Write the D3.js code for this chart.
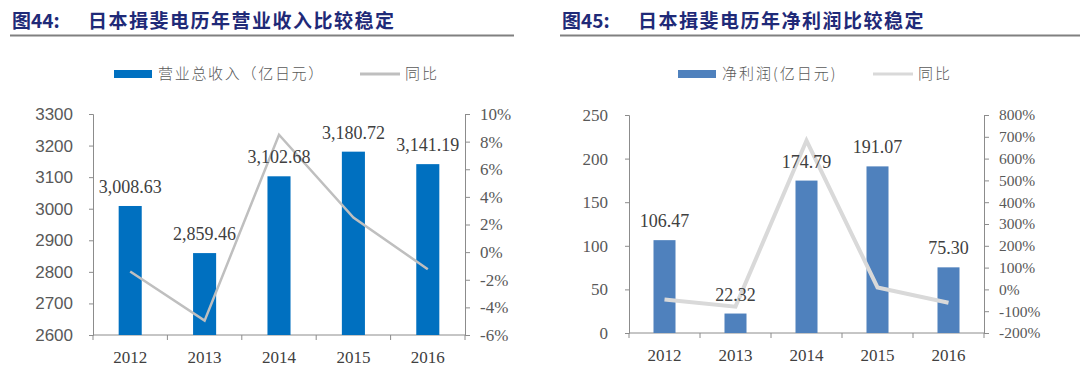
<!DOCTYPE html>
<html>
<head>
<meta charset="utf-8">
<script src="https://cdn.jsdelivr.net/npm/d3@7"></script>
<style>
  body { margin: 0; background: #fff; }
  svg { display: block; }
</style>
</head>
<body>
<svg id="chart" width="1080" height="378"></svg>
<script>
// données
const years = ["2012", "2013", "2014", "2015", "2016"];
const revenue = [3008.63, 2859.46, 3102.68, 3180.72, 3141.19];
const revenueYoy = [-1.4, -4.96, 8.5, 2.5, -1.24];
const profit = [106.47, 22.32, 174.79, 191.07, 75.30];
const profitYoy = [-46, -79, 683, 9, -61];

const revenueTicks = [2600, 2700, 2800, 2900, 3000, 3100, 3200, 3300];
const revenuePctTicks = [-6, -4, -2, 0, 2, 4, 6, 8, 10];
const profitTicks = [0, 50, 100, 150, 200, 250];
const profitPctTicks = [-200, -100, 0, 100, 200, 300, 400, 500, 600, 700, 800];

const svg = d3.select("#chart");
const axisColor = "#8c8c8c";
const textColor = "#595959";
const serif = "'Liberation Serif', 'Times New Roman', serif";
const cjk = "'Noto Sans CJK SC', sans-serif";

/**
 * Dessine un graphique barres + ligne avec deux axes y
 */
function drawChart(opt) {
    const g = svg.append("g");

    // titre + trait
    g.append("text")
        .attr("x", opt.titleX).attr("y", 28)
        .attr("fill", "#1f2a78")
        .style("font-family", cjk).style("font-weight", 700).style("font-size", "19px")
        .text(opt.figNo);
    g.append("text")
        .attr("x", opt.titleX + 76).attr("y", 28)
        .attr("fill", "#1f2a78")
        .style("font-family", cjk).style("font-weight", 700).style("font-size", "19px")
        .style("letter-spacing", "1.5px")
        .text(opt.title);
    g.append("line")
        .attr("x1", opt.ruleX1).attr("x2", opt.ruleX2)
        .attr("y1", 35.5).attr("y2", 35.5)
        .attr("stroke", "#808080").attr("stroke-width", 2);

    const x = d3.scaleBand().domain(years).range([opt.left, opt.right]).padding(0);
    const y = d3.scaleLinear().domain(opt.yDomain).range([opt.bottom, opt.top]);
    const y2 = d3.scaleLinear().domain(opt.y2Domain).range([opt.bottom, opt.top]);

    // axe gauche
    const yAxis = g.append("g")
        .attr("transform", `translate(${opt.left},0)`)
        .call(d3.axisLeft(y).tickValues(opt.yTicks).tickSize(opt.leftTick).tickPadding(opt.leftPad)
            .tickFormat(d3.format("d")));
    yAxis.select(".domain").attr("stroke", axisColor);
    yAxis.selectAll(".tick line").attr("stroke", axisColor);
    yAxis.selectAll("text")
        .attr("fill", textColor)
        .style("font-family", opt.leftFont).style("font-size", opt.leftSize);

    // axe droit
    const y2Axis = g.append("g")
        .attr("transform", `translate(${opt.right},0)`)
        .call(d3.axisRight(y2).tickValues(opt.y2Ticks).tickSize(5).tickPadding(10)
            .tickFormat(d => d + "%"));
    y2Axis.select(".domain").attr("stroke", axisColor);
    y2Axis.selectAll(".tick line").attr("stroke", axisColor);
    y2Axis.selectAll("text")
        .attr("fill", textColor)
        .style("font-family", serif).style("font-size", opt.rightSize);

    // axe x : graduations entre les catégories
    g.append("line")
        .attr("x1", opt.left).attr("x2", opt.right)
        .attr("y1", opt.bottom).attr("y2", opt.bottom)
        .attr("stroke", axisColor);
    const bounds = years.map(d => x(d)).concat([opt.right]);
    g.selectAll(".xtick").data(bounds).enter().append("line")
        .attr("x1", d => d).attr("x2", d => d)
        .attr("y1", opt.bottom).attr("y2", opt.bottom + 5)
        .attr("stroke", axisColor);
    g.selectAll(".xlab").data(years).enter().append("text")
        .attr("x", d => x(d) + x.bandwidth() / 2)
        .attr("y", opt.bottom + 28)
        .attr("text-anchor", "middle")
        .attr("fill", "#404040")
        .style("font-family", serif).style("font-size", "17px")
        .text(d => d);

    // barres
    const bw = x.bandwidth() * opt.barRatio;
    g.selectAll(".bar").data(opt.bars).enter().append("rect")
        .attr("x", (d, i) => x(years[i]) + (x.bandwidth() - bw) / 2)
        .attr("width", bw)
        .attr("y", d => y(d))
        .attr("height", d => opt.bottom - y(d))
        .attr("fill", opt.barColor);

    // ligne
    const line = d3.line()
        .x((d, i) => x(years[i]) + x.bandwidth() / 2)
        .y(d => y2(d));
    g.append("path")
        .datum(opt.line)
        .attr("d", line)
        .attr("fill", "none")
        .attr("stroke", opt.lineColor)
        .attr("stroke-width", opt.lineWidth);

    // étiquettes des barres
    g.selectAll(".lab").data(opt.bars).enter().append("text")
        .attr("x", (d, i) => x(years[i]) + x.bandwidth() / 2)
        .attr("y", d => y(d) - 13)
        .attr("text-anchor", "middle")
        .attr("fill", "#404040")
        .style("font-family", serif).style("font-size", "18px")
        .text(d => opt.labelFormat(d));

    // légende
    const lg = g.append("g");
    lg.append("rect")
        .attr("x", opt.legendX).attr("y", 70)
        .attr("width", 38).attr("height", 8)
        .attr("fill", opt.barColor);
    lg.append("text")
        .attr("x", opt.legendX + 44).attr("y", 79)
        .attr("fill", textColor)
        .style("font-family", cjk).style("font-weight", 300).style("font-size", "15px")
        .style("letter-spacing", opt.legendSpacing)
        .text(opt.barName);
    lg.append("line")
        .attr("x1", opt.legendLineX).attr("x2", opt.legendLineX + 40)
        .attr("y1", 74).attr("y2", 74)
        .attr("stroke", opt.lineColor).attr("stroke-width", 3);
    lg.append("text")
        .attr("x", opt.legendLineX + 45).attr("y", 79)
        .attr("fill", textColor)
        .style("font-family", cjk).style("font-weight", 300).style("font-size", "15px")
        .style("letter-spacing", "2px")
        .text("同比");
}

drawChart({
    figNo: "图44:", title: "日本揖斐电历年营业收入比较稳定",
    titleX: 12, ruleX1: 10, ruleX2: 514,
    left: 93, right: 465, top: 114, bottom: 335,
    yDomain: [2600, 3300], y2Domain: [-6, 10],
    yTicks: revenueTicks, y2Ticks: revenuePctTicks,
    leftTick: 4, leftPad: 16,
    leftFont: "'Liberation Sans', Arial, sans-serif", leftSize: "17px", rightSize: "17px",
    bars: revenue, line: revenueYoy, barRatio: 0.31,
    barColor: "#0070c0", lineColor: "#bfbfbf", lineWidth: 2.5,
    labelFormat: d3.format(",.2f"),
    legendX: 114, legendSpacing: "1.7px", barName: "营业总收入（亿日元）",
    legendLineX: 360
});

drawChart({
    figNo: "图45:", title: "日本揖斐电历年净利润比较稳定",
    titleX: 562, ruleX1: 560, ruleX2: 1080,
    left: 629, right: 984, top: 115, bottom: 333,
    yDomain: [0, 250], y2Domain: [-200, 800],
    yTicks: profitTicks, y2Ticks: profitPctTicks,
    leftTick: 4, leftPad: 17,
    leftFont: serif, leftSize: "17px", rightSize: "15.5px",
    bars: profit, line: profitYoy, barRatio: 0.31,
    barColor: "#4f81bd", lineColor: "#d9d9d9", lineWidth: 4,
    labelFormat: d3.format(".2f"),
    legendX: 678, legendSpacing: "2px", barName: "净利润(亿日元)",
    legendLineX: 873
});
</script>
</body>
</html>
